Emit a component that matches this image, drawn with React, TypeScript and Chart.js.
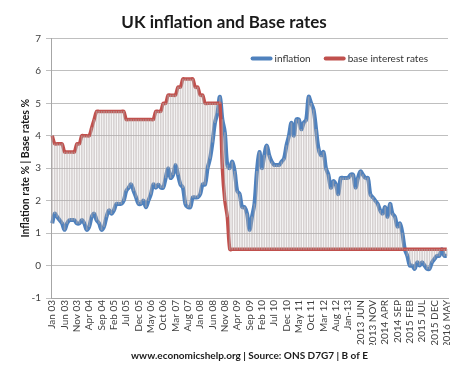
import React, { useEffect, useRef } from "react";
import { Chart, registerables } from "chart.js";

Chart.register(...registerables);

const TITLE = "UK inflation and Base rates";
const Y_TITLE = "Inflation rate % | Base rates %";
const FOOTER = "www.economicshelp.org | Source: ONS D7G7 | B of E";
const SERIES_NAMES = ["inflation", "base interest rates"];

const YEARS = ["2003", "2004", "2005", "2006", "2007", "2008", "2009", "2010", "2011", "2012", "2013", "2014", "2015", "2016"];
const MONTHS = ["01", "02", "03", "04", "05", "06", "07", "08", "09", "10", "11", "12"];
const LAST_MONTHS_2016 = 5;

// labels shown every 5th month starting Jan 2003
const TICK_LABELS = [
  "Jan 03", "Jun 03", "Nov 03", "Apr 04", "Sep 04", "Feb 05", "Jul 05", "Dec 05",
  "May 06", "Oct 06", "Mar 07", "Aug 07", "Jan 08", "Jun 08", "Nov 08", "Apr 09",
  "Sep 09", "Feb 10", "Jul 10", "Dec 10", "May 11", "Oct 11", "Mar 12", "Aug 12",
  "Jan-13", "2013 JUN", "2013 NOV", "2014 APR", "2014 SEP", "2015 FEB", "2015 JUL",
  "2015 DEC", "2016 MAY",
];
const TICK_EVERY = 5;

const INFLATION = [
  1.3, 1.6, 1.5, 1.4, 1.3, 1.1, 1.3, 1.4, 1.4, 1.4, 1.3, 1.3,
  1.4, 1.3, 1.1, 1.2, 1.5, 1.6, 1.4, 1.3, 1.1, 1.2, 1.5, 1.7,
  1.6, 1.7, 1.9, 1.9, 1.9, 2.0, 2.3, 2.4, 2.5, 2.3, 2.1, 1.9,
  1.9, 2.0, 1.8, 2.0, 2.2, 2.5, 2.4, 2.5, 2.4, 2.4, 2.7, 3.0,
  2.7, 2.8, 3.1, 2.8, 2.5, 2.4, 1.9, 1.8, 1.8, 2.1, 2.1, 2.1,
  2.2, 2.5, 2.5, 3.0, 3.3, 3.8, 4.4, 4.7, 5.2, 4.5, 4.1, 3.1,
  3.0, 3.2, 2.9, 2.3, 2.2, 1.8, 1.8, 1.6, 1.1, 1.5, 1.9, 2.9,
  3.5, 3.0, 3.4, 3.7, 3.4, 3.2, 3.1, 3.1, 3.1, 3.2, 3.3, 3.7,
  4.0, 4.4, 4.0, 4.5, 4.5, 4.2, 4.4, 4.5, 5.2, 5.0, 4.8, 4.2,
  3.6, 3.4, 3.5, 3.0, 2.8, 2.4, 2.6, 2.5, 2.2, 2.7, 2.7, 2.7,
  2.7, 2.8, 2.8, 2.4, 2.7, 2.9, 2.8, 2.7, 2.7, 2.2, 2.1, 2.0,
  1.9, 1.7, 1.6, 1.8, 1.5, 1.9, 1.6, 1.5, 1.2, 1.3, 1.0, 0.5,
  0.3, 0.0, 0.0, -0.1, 0.1, 0.0, 0.1, 0.0, -0.1, -0.1, 0.1, 0.2,
  0.3, 0.3, 0.5, 0.3, 0.3,
];

const BASE_RATE = [
  4.0, 3.75, 3.75, 3.75, 3.75, 3.5, 3.5, 3.5, 3.5, 3.5, 3.75, 3.75,
  4.0, 4.0, 4.0, 4.0, 4.25, 4.5, 4.75, 4.75, 4.75, 4.75, 4.75, 4.75,
  4.75, 4.75, 4.75, 4.75, 4.75, 4.75, 4.5, 4.5, 4.5, 4.5, 4.5, 4.5,
  4.5, 4.5, 4.5, 4.5, 4.5, 4.5, 4.75, 4.75, 4.75, 5.0, 5.0, 5.25,
  5.25, 5.25, 5.25, 5.5, 5.5, 5.75, 5.75, 5.75, 5.75, 5.75, 5.5, 5.5,
  5.25, 5.25, 5.0, 5.0, 5.0, 5.0, 5.0, 5.0, 5.0, 3.0, 2.0, 1.5,
  0.5, 0.5, 0.5, 0.5, 0.5, 0.5, 0.5, 0.5, 0.5, 0.5, 0.5, 0.5,
  0.5, 0.5, 0.5, 0.5, 0.5, 0.5, 0.5, 0.5, 0.5, 0.5, 0.5, 0.5,
  0.5, 0.5, 0.5, 0.5, 0.5, 0.5, 0.5, 0.5, 0.5, 0.5, 0.5, 0.5,
  0.5, 0.5, 0.5, 0.5, 0.5, 0.5, 0.5, 0.5, 0.5, 0.5, 0.5, 0.5,
  0.5, 0.5, 0.5, 0.5, 0.5, 0.5, 0.5, 0.5, 0.5, 0.5, 0.5, 0.5,
  0.5, 0.5, 0.5, 0.5, 0.5, 0.5, 0.5, 0.5, 0.5, 0.5, 0.5, 0.5,
  0.5, 0.5, 0.5, 0.5, 0.5, 0.5, 0.5, 0.5, 0.5, 0.5, 0.5, 0.5,
  0.5, 0.5, 0.5, 0.5, 0.5,
];

const Y_MIN = -1;
const Y_MAX = 7;

const BLUE = "#4f81bd";
const RED = "#c0504d";
const FONT = "Lato, 'Open Sans', sans-serif";

const insideLegend = {
  id: "insideLegend",
  afterDraw(chart: any) {
    const { ctx, chartArea } = chart;
    const colors = [BLUE, RED];
    ctx.save();
    ctx.font = `10px ${FONT}`;
    ctx.textBaseline = "middle";
    ctx.textAlign = "left";
    const sample = 22;
    const gapText = 2;
    const gapItem = 13;
    const widths = SERIES_NAMES.map((t) => ctx.measureText(t).width);
    let total = 0;
    widths.forEach((w, i) => { total += sample + gapText + w + (i < widths.length - 1 ? gapItem : 0); });
    let x = chartArea.right - 20 - total;
    const y = chartArea.top + 20;
    SERIES_NAMES.forEach((t, i) => {
      ctx.strokeStyle = colors[i];
      ctx.lineWidth = 4;
      ctx.lineCap = "round";
      ctx.beginPath();
      ctx.moveTo(x + 2, y);
      ctx.lineTo(x + sample - 2, y);
      ctx.stroke();
      ctx.fillStyle = "#333333";
      ctx.fillText(t, x + sample + gapText, y);
      x += sample + gapText + widths[i] + gapItem;
    });
    ctx.restore();
  },
};

export default function App() {
  const canvasRef = useRef<HTMLCanvasElement | null>(null);

  useEffect(() => {
    document.body.style.margin = "0";
    const categories: string[] = [];
    YEARS.forEach((y, yi) => {
      const n = yi === YEARS.length - 1 ? LAST_MONTHS_2016 : 12;
      for (let m = 0; m < n; m++) categories.push(`${y}-${MONTHS[m]}`);
    });
    const drop = INFLATION.map((v, i) => [v, BASE_RATE[i]]);

    const chart = new Chart(canvasRef.current as HTMLCanvasElement, {
      type: "bar",
      data: {
        labels: categories,
        datasets: [
          {
            type: "bar",
            label: "drop",
            data: drop as any,
            backgroundColor: "rgba(180,172,172,0.55)",
            borderWidth: 0,
            barThickness: 1,
            order: 0,
          },
          {
            type: "line",
            label: SERIES_NAMES[0],
            data: INFLATION,
            borderColor: BLUE,
            backgroundColor: BLUE,
            borderWidth: 4,
            pointRadius: 0,
            tension: 0.35,
            order: 2,
          },
          {
            type: "line",
            label: SERIES_NAMES[1],
            data: BASE_RATE,
            borderColor: RED,
            backgroundColor: RED,
            borderWidth: 3.5,
            pointRadius: 0,
            tension: 0.3,
            order: 1,
          },
        ],
      },
      options: {
        animation: false,
        responsive: true,
        maintainAspectRatio: false,
        layout: { padding: { left: 0, right: 26, top: 0, bottom: 0 } },
        plugins: {
          tooltip: { enabled: false },
          legend: { display: false },
          title: {
            display: true,
            text: TITLE,
            color: "#1a1a1a",
            font: { family: FONT, size: 17, weight: "bold" },
            padding: { top: 12, bottom: 6 },
          },
          subtitle: {
            display: true,
            text: FOOTER,
            position: "bottom",
            fullSize: false,
            color: "#1a1a1a",
            font: { family: FONT, size: 10, weight: "bold" },
            padding: { top: 5, bottom: 10 },
          },
        },
        scales: {
          x: {
            type: "category",
            offset: true,
            afterFit: (s: any) => { s.height = 47; },
            grid: { display: false, drawTicks: false },
            border: { display: true, color: "#a6a6a6", width: 1 },
            ticks: {
              autoSkip: false,
              maxRotation: 90,
              minRotation: 90,
              padding: 2,
              color: "#404040",
              font: { family: FONT, size: 10 },
              callback: (_v: any, i: number) => (i % TICK_EVERY === 0 ? TICK_LABELS[i / TICK_EVERY] ?? "" : ""),
            },
          },
          y: {
            min: Y_MIN,
            max: Y_MAX,
            afterFit: (s: any) => { s.width = 51; },
            grid: { color: "#bfbfbf", lineWidth: 1, tickLength: 5, drawTicks: true },
            border: { display: true, color: "#a6a6a6", width: 1 },
            ticks: {
              stepSize: 1,
              padding: 5,
              color: "#404040",
              font: { family: FONT, size: 10 },
            },
            title: {
              display: true,
              text: Y_TITLE,
              color: "#1a1a1a",
              font: { family: FONT, size: 10.5, weight: "bold" },
              padding: { top: 19, bottom: 0 },
            },
          },
        },
      },
      plugins: [insideLegend],
    });
    return () => chart.destroy();
  }, []);

  return (
    <div style={{ position: "relative", width: 474, height: 372 }}>
      <canvas ref={canvasRef} />
    </div>
  );
}
